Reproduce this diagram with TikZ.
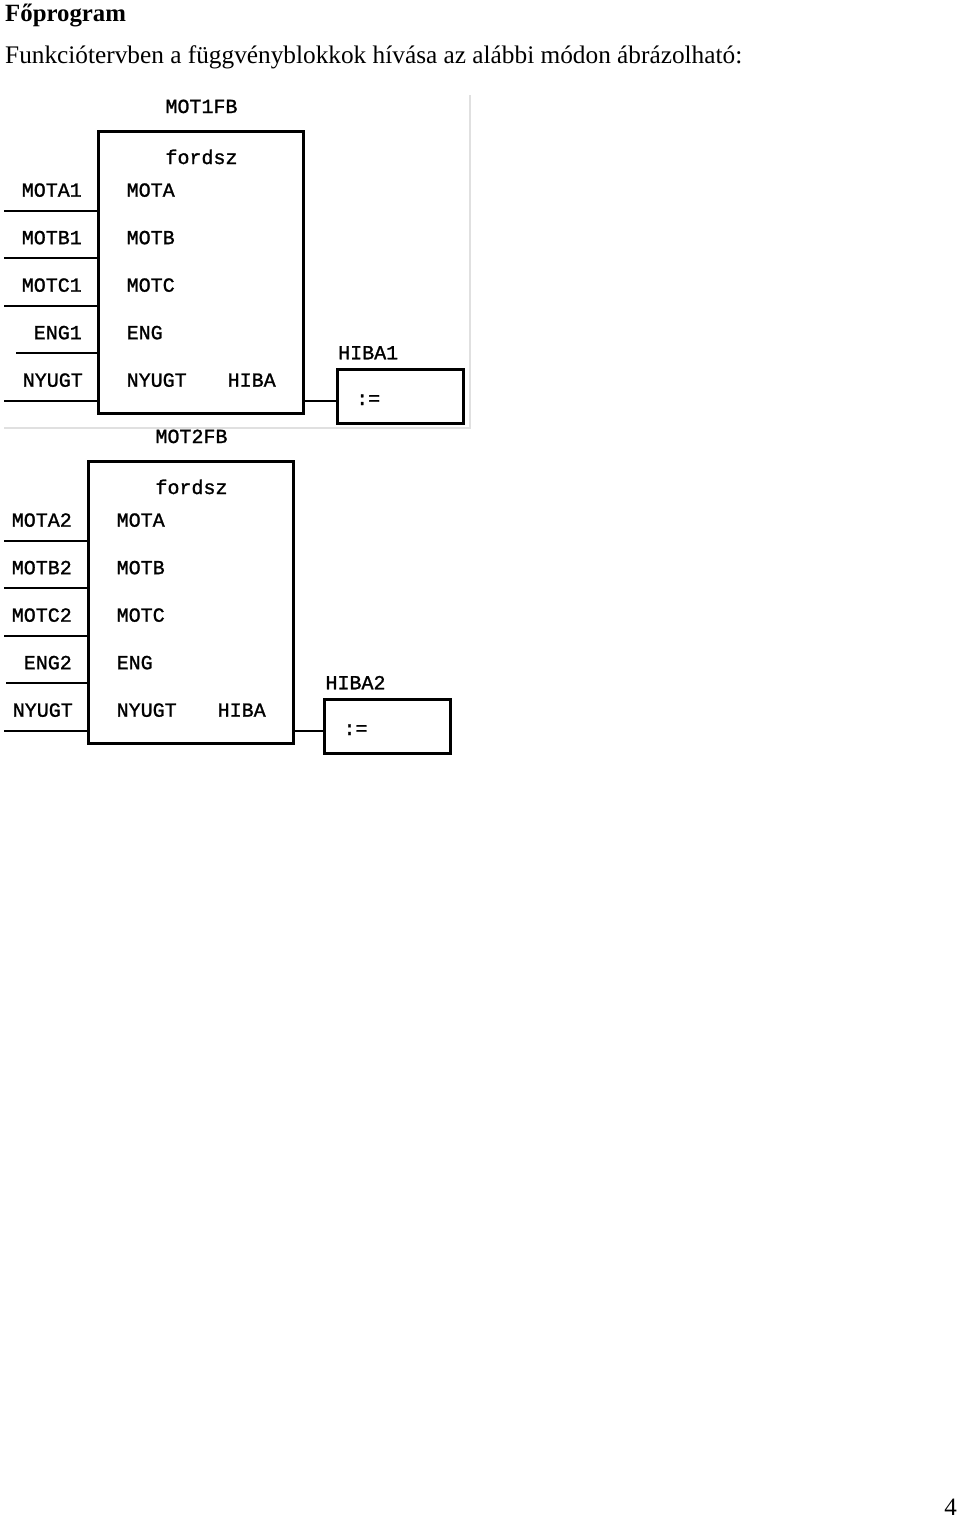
\documentclass[tikz,border=0pt]{standalone}
\usepackage{fontspec}
\setmainfont{Liberation Serif}
\newfontfamily\plcfont{Liberation Mono}[FakeBold=1.2]
\tikzset{
  every picture/.style={x=1pt,y=-1pt},
  fbbox/.style={draw, line width=3pt, inner sep=0pt, minimum width=205pt, minimum height=282pt},
  asgbox/.style={draw, line width=3pt, inner sep=0pt},
  wire/.style={line width=1.8pt},
  plc/.style={font=\plcfont\fontsize{20}{20}\selectfont, inner sep=0pt},
  frameline/.style={draw=black!12, line width=1.2pt}
}
% #1 suffix, #2 dx, #3 dy, #4 assignment box left, #5 right
\newcommand{\fbblock}[5]{%
\begin{scope}[shift={(#2,#3)}]
  \node[fbbox] (box#1) at (200.5,272) {};
  \node[plc, anchor=base] (inst#1) at (201.5,113) {MOT#1FB};
  \node[plc, anchor=base] (type#1) at (201.5,164) {fordsz};
  \foreach \i/\pin in {1/MOTA, 2/MOTB, 3/MOTC, 4/ENG, 5/NYUGT}{
    \pgfmathsetmacro{\yy}{210.7+47.5*(\i-1)}
    \pgfmathsetmacro{\lx}{\i==4 ? 16 : 4-(#2)}
    \coordinate (in#1\i) at (\lx,\yy);
    \draw[wire] (in#1\i) -- (box#1.west |- in#1\i);
    \node[plc, anchor=base west] (pin#1\i) at (126.5,\yy-14) {\pin};
  }
  \node[plc, anchor=base east] (var#11) at (82,196.7) {MOTA#1};
  \node[plc, anchor=base east] (var#12) at (82,244.2) {MOTB#1};
  \node[plc, anchor=base east] (var#13) at (82,291.7) {MOTC#1};
  \node[plc, anchor=base east] (var#14) at (82,339.2) {ENG#1};
  \node[plc, anchor=base east] (var#15) at (83,386.7) {NYUGT};
  \node[plc, anchor=base west] (out#1) at (227.5,386.7) {HIBA};
  \node[asgbox, minimum width={#5-#4}, minimum height=54pt] (asg#1) at ({(#4+#5)/2},396) {};
  \node[plc, anchor=base west] (asglab#1) at (#4+1,359.3) {HIBA#1};
  \node[plc, anchor=base west] (asgop#1) at (#4+19,405) {:=};
  \draw[wire] (box#1.east |- 0,400.7) -- (asg#1.west |- 0,400.7);
\end{scope}}
\begin{document}
\begin{tikzpicture}
\useasboundingbox (0,0) rectangle (960,1519);
\fill[white] (0,0) rectangle (960,1519);
\node[anchor=base west, inner sep=0pt, font=\bfseries\fontsize{24.8}{25}\selectfont] (title) at (5,21) {Főprogram};
\node[anchor=base west, inner sep=0pt, font=\fontsize{25.3}{26}\selectfont] (intro) at (5,63) {Funkciótervben a függvényblokkok hívása az alábbi módon ábrázolható:};
% faint frame of the first picture
\coordinate (fa) at (470,95);
\coordinate (fb) at (470,428);
\coordinate (fc) at (4,428);
\draw[frameline] (fa) -- (fb) -- (fc);
\fbblock{1}{0}{0}{337}{463}
\fbblock{2}{-10}{330}{334.3}{460.7}
\node[anchor=base east, inner sep=0pt, font=\fontsize{25}{25}\selectfont] (pageno) at (957,1515) {4};
\end{tikzpicture}
\end{document}
